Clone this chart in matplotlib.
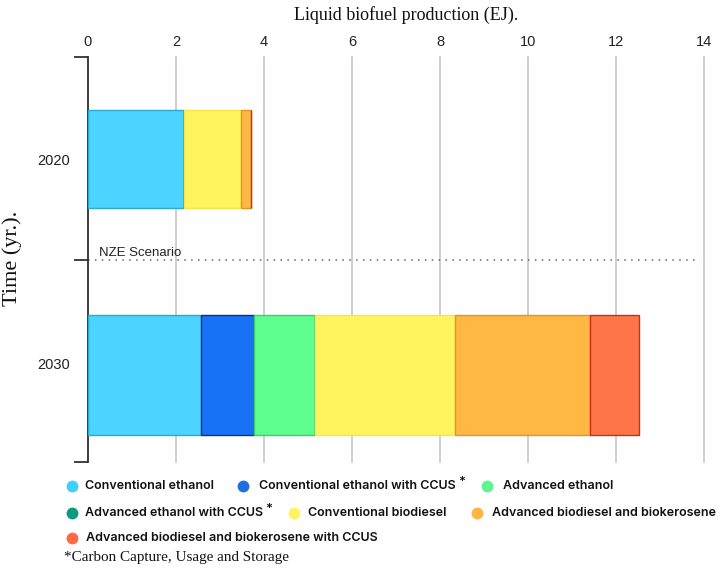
import matplotlib
matplotlib.use("Agg")
import matplotlib.pyplot as plt
from matplotlib.lines import Line2D

years = ["2020", "2030"]
categories = [
    "Conventional ethanol",
    "Conventional ethanol with CCUS",
    "Advanced ethanol",
    "Advanced ethanol with CCUS",
    "Conventional biodiesel",
    "Advanced biodiesel and biokerosene",
    "Advanced biodiesel and biokerosene with CCUS",
]
values_2020 = [2.18, 0.0, 0.0, 0.0, 1.30, 0.23, 0.0]
values_2030 = [2.56, 1.21, 1.40, 0.0, 3.16, 3.09, 1.10]
x_ticks = [0, 2, 4, 6, 8, 10, 12, 14]
starred = [False, True, False, True, False, False, False]

fill_colors = ["#4AD4FF", "#1872F5", "#5EFF8E", "#0BA58A", "#FFF35E", "#FFB843", "#FF754A"]
edge_colors = ["#2BA9D6", "#0D2E8C", "#3BCF6C", "#4a4a4a", "#F5E64A", "#E8921F", "#C9301A"]
legend_colors = ["#3FD0FF", "#1D6FE0", "#5EF590", "#0A9A80", "#FFF460", "#FFB540", "#FF6A45"]

W, H = 724, 568
fig = plt.figure(figsize=(W / 100, H / 100), dpi=100)
ax = fig.add_axes([88 / W, 1 - 462 / H, (704 - 88) / W, (462 - 57) / H])
ax.set_xlim(0, 14)
ax.set_ylim(1, 0)

# bars
bar_pos = [0.252, 0.785]
bar_h = [0.242, 0.296]
for yi, vals in enumerate([values_2020, values_2030]):
    left = 0.0
    for ci, v in enumerate(vals):
        ax.barh(bar_pos[yi], v, left=left, height=bar_h[yi], color=fill_colors[ci],
                edgecolor=edge_colors[ci], linewidth=1.0, zorder=3)
        left += v

# gridlines
for t in x_ticks:
    ax.axvline(t, color="#C6C6C6", linewidth=1.2, zorder=1, clip_on=False)

# dotted divider
ax.plot([0, 13.9], [0.5, 0.5], linestyle=(0, (1, 3.5)), color="#666666", linewidth=1.1, zorder=2)
ax.text(0.25, 0.484, "NZE Scenario", fontsize=9.5, family="Liberation Sans",
        color="#222222", va="center", ha="left")

for s in ["top", "right", "bottom"]:
    ax.spines[s].set_visible(False)
ax.spines["left"].set_color("#333333")
ax.spines["left"].set_linewidth(1.3)

ax.xaxis.tick_top()
ax.set_xticks(x_ticks)
ax.set_xticklabels([str(t) for t in x_ticks], fontsize=10.5, family="Liberation Sans", color="#222222")
ax.tick_params(axis="x", length=0, pad=5.5)

ax.set_yticks([0, 0.5, 1])
ax.set_yticklabels(["", "", ""])
ax.tick_params(axis="y", which="major", length=10, width=1.3, color="#333333")
ax.set_yticks([0.254, 0.756], minor=True)
ax.set_yticklabels(years, minor=True, fontsize=10.5, family="Liberation Sans", color="#222222")
ax.tick_params(axis="y", which="minor", length=0, pad=13)

fig.text(406 / W, 1 - 15 / H, "Liquid biofuel production (EJ).", family="Liberation Serif",
         fontsize=13, ha="center", va="center", color="#111111")
fig.text(12 / W, 1 - 258 / H, "Time (yr.).", family="Liberation Serif", fontsize=16,
         rotation=90, ha="center", va="center", color="#111111")

# legend (manual flowing layout: marker x, text x, row y)
legend_layout = [(72, 85, 486), (243, 259, 486), (487, 503, 486),
                 (72, 85, 513), (294, 308, 513), (477, 492, 513),
                 (72, 86, 538)]
for ci, (mx, tx, ly) in enumerate(legend_layout):
    fig.add_artist(Line2D([mx / W], [1 - ly / H], marker="o", markersize=7.5, linestyle="none",
                          color=legend_colors[ci], transform=fig.transFigure))
    t = fig.text(tx / W, 1 - ly / H, categories[ci], family="Inter", fontweight="semibold",
                 fontsize=9.0, ha="left", va="center", color="#111111")
    if starred[ci]:
        fig.canvas.draw()
        bb = t.get_window_extent()
        fig.text((bb.x1 + 2) / W, 1 - (ly - 4) / H, "*", family="Inter", fontweight="semibold",
                 fontsize=9.5, ha="left", va="center", color="#111111")

fig.text(64 / W, 1 - 558 / H, "*Carbon Capture, Usage and Storage", family="Liberation Serif",
         fontsize=10.9, ha="left", va="center", color="#111111")

fig.savefig("out.png", dpi=100)
